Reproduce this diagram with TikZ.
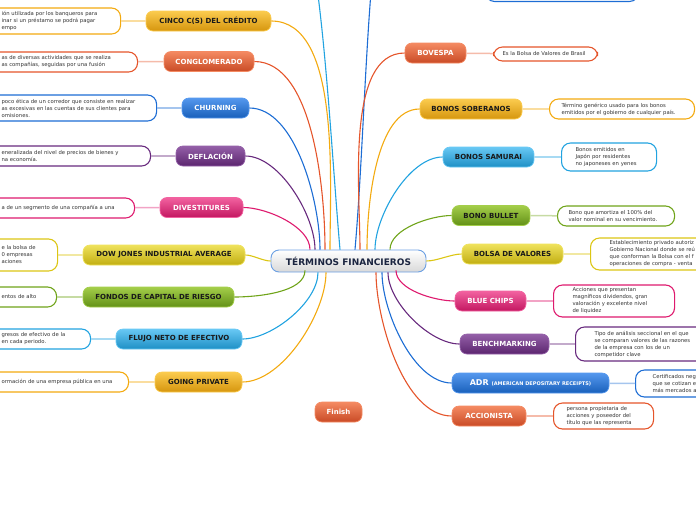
\documentclass[tikz,border=0pt]{standalone}
\usepackage{fontspec}
\setmainfont{DejaVu Sans}

\definecolor{ambar}{HTML}{F3AA10}
\definecolor{ambarhi}{HTML}{FBCB4E}
\definecolor{rojo}{HTML}{E5552B}
\definecolor{rojohi}{HTML}{F48A62}
\definecolor{azul}{HTML}{1D6DD4}
\definecolor{azulhi}{HTML}{5598EE}
\definecolor{morado}{HTML}{682A7E}
\definecolor{moradohi}{HTML}{9460A8}
\definecolor{rosa}{HTML}{DE1A6E}
\definecolor{rosahi}{HTML}{F262A0}
\definecolor{oro}{HTML}{DCC614}
\definecolor{orohi}{HTML}{EFE25C}
\definecolor{verde}{HTML}{70A41A}
\definecolor{verdehi}{HTML}{A4CE4A}
\definecolor{celeste}{HTML}{22A3E0}
\definecolor{celestehi}{HTML}{68C8F4}
\definecolor{tinta}{HTML}{1B2540}

\tikzset{
	term/.style={rounded corners=7pt,minimum height=20pt,inner sep=0pt,line width=0.7pt,font=\fontsize{7}{8}\selectfont\bfseries},
	tono/.style={term,top color=#1hi,bottom color=#1!88!black,draw=#1hi},
	claro/.style={tono=#1,text=black!90},
	oscuro/.style={tono=#1,text=white},
	raiz/.style={rounded corners=8pt,minimum width=155pt,minimum height=22pt,inner sep=0pt,top color=white,bottom color=gray!30,draw=azul!65,line width=0.9pt,text=tinta,font=\fontsize{9}{10}\selectfont\bfseries},
	desc/.style={draw=#1,line width=1.1pt,fill=white,rounded corners=9pt,align=left,anchor=west,inner ysep=1pt,text=black!80,font=\fontsize{5.3}{7}\selectfont},
	izq/.style={desc=#1,inner xsep=13pt},
	rama/.style={draw=#1,line width=1.1pt,looseness=0.75},
	enlace/.style={draw=#1!40,line width=1.5pt}
}

\begin{document}
\begin{tikzpicture}[x=1pt,y=1pt]
	\useasboundingbox (0,0) rectangle (696,-520);
	% centro
	\node[raiz] (0) at (348.5,-261) {TÉRMINOS FINANCIEROS};
	% lado izquierdo
	\node[claro=ambar,minimum width=125pt] (1) at (208.5,-21) {CINCO C(S) DEL CRÉDITO};
	\node[oscuro=rojo,minimum width=90pt] (2) at (209,-61.5) {CONGLOMERADO};
	\node[oscuro=azul,minimum width=67pt] (3) at (215.5,-108) {CHURNING};
	\node[oscuro=morado,minimum width=69pt] (4) at (210.5,-156) {DEFLACIÓN};
	\node[oscuro=rosa,minimum width=83pt] (5) at (201.5,-207.5) {DIVESTITURES};
	\node[claro=oro,minimum width=162pt] (6) at (164,-255) {DOW JONES INDUSTRIAL AVERAGE};
	\node[claro=verde,minimum width=151pt] (7) at (158.5,-297) {FONDOS DE CAPITAL DE RIESGO};
	\node[claro=celeste,minimum width=126pt] (8) at (179,-339) {FLUJO NETO DE EFECTIVO};
	\node[claro=ambar,minimum width=87pt] (9) at (198.5,-382) {GOING PRIVATE};
	% lado derecho
	\node[oscuro=rojo,minimum width=61pt] (10) at (435.5,-53) {BOVESPA};
	\node[claro=ambar,minimum width=102pt] (11) at (471,-109) {BONOS SOBERANOS};
	\node[claro=celeste,minimum width=91pt] (12) at (488.5,-157) {BONOS SAMURAI};
	\node[claro=verde,minimum width=78pt] (13) at (491,-215.5) {BONO BULLET};
	\node[claro=oro,minimum width=101pt] (14) at (512.5,-254) {BOLSA DE VALORES};
	\node[oscuro=rosa,minimum width=71pt] (15) at (490.5,-301) {BLUE CHIPS};
	\node[oscuro=morado,minimum width=89pt] (16) at (504.5,-344) {BENCHMARKING};
	\node[oscuro=azul,minimum width=157pt] (17) at (530.5,-383) {\fontsize{8}{9}\selectfont ADR {\fontsize{5}{6}\selectfont(AMERICAN DEPOSITARY RECEIPTS)}};
	\node[oscuro=rojo,minimum width=74pt] (18) at (489,-416) {ACCIONISTA};
	\node[oscuro=rojo,minimum width=47pt] (19) at (338.5,-412) {Finish};
	% descripciones
	\node[izq=ambar,text width=106pt,minimum height=26pt] (d1) at (-12,-21) {ión utilizada por los banqueros para\\inar si un préstamo se podrá pagar\\empo};
	\node[izq=rojo,text width=123pt,minimum height=20pt] (d2) at (-12,-62) {as de diversas actividades que se realiza\\as compañías, seguidas por una fusión};
	\node[izq=azul,text width=142pt,minimum height=26pt] (d3) at (-12,-108) {poco ética de un corredor que consiste en realizar\\as excesivas en las cuentas de sus clientes para\\omisiones.};
	\node[izq=morado,text width=136pt,minimum height=20pt] (d4) at (-12,-156) {eneralizada del nivel de precios de bienes y\\na economía.};
	\node[izq=rosa,text width=120pt,minimum height=20pt] (d5) at (-12,-208) {a de un segmento de una compañía a una};
	\node[izq=oro,text width=43pt,minimum height=32pt] (d6) at (-12,-255) {e la bolsa de\\0 empresas\\aciones};
	\node[izq=verde,text width=42pt,minimum height=20pt] (d7) at (-12,-297) {entos de alto};
	\node[izq=celeste,text width=76pt,minimum height=20pt] (d8) at (-12,-339) {gresos de efectivo de la\\en cada periodo.};
	\node[izq=ambar,text width=114pt,minimum height=20pt] (d9) at (-12,-382) {ormación de una empresa pública en una};
	\node[desc=rojo,inner xsep=9pt,text width=86pt,minimum height=14pt] (d10) at (493,-54) {Es la Bolsa de Valores de Brasil};
	\node[desc=ambar,inner xsep=12pt,text width=121pt,minimum height=20pt] (d11) at (549,-109) {Término genérico usado para los bonos\\emitidos por el gobierno de cualquier país.};
	\node[desc=celeste,inner xsep=14pt,text width=67pt,minimum height=28pt] (d12) at (561,-157) {Bonos emitidos en\\Japón por residentes\\no japoneses en yenes};
	\node[desc=verde,inner xsep=11pt,text width=95pt,minimum height=20pt] (d13) at (557,-216) {Bono que amortiza el 100\% del\\valor nominal en su vencimiento.};
	\node[desc=oro,inner xsep=19pt,text width=112pt,minimum height=32pt] (d14) at (590,-254) {Establecimiento privado autoriz\\Gobierno Nacional donde se reú\\que conforman la Bolsa con el f\\operaciones de compra - venta};
	\node[desc=rosa,inner xsep=19pt,text width=83pt,minimum height=32pt] (d15) at (553,-301) {Acciones que presentan\\magníficos dividendos, gran\\valoración y excelente nivel\\de liquidez};
	\node[desc=morado,inner xsep=19pt,text width=107pt,minimum height=34pt] (d16) at (575,-344) {Tipo de análisis seccional en el que\\se comparan valores de las razones\\de la empresa con los de un\\competidor clave};
	\node[desc=azul,inner xsep=17pt,text width=71pt,minimum height=27pt] (d17) at (635,-383.5) {Certificados neg\\que se cotizan e\\más mercados a};
	\node[desc=rojo,inner xsep=13pt,text width=74pt,minimum height=26pt] (d18) at (553,-416) {persona propietaria de\\acciones y poseedor del\\título que las representa};
	\node[desc=azul,anchor=south west,minimum width=153pt,minimum height=24pt] (d20) at (485,-2) {};
	% ramas fuera del cuadro
	\coordinate (arriba1) at (316,20);
	\coordinate (arriba2) at (372,20);
	% ramas
	\draw[rama=ambar] ([xshift=-18.5pt]0.north) to[out=90,in=0] (1.east);
	\draw[rama=rojo] ([xshift=-23.5pt]0.north) to[out=90,in=0] (2.east);
	\draw[rama=azul] ([xshift=-28.5pt]0.north) to[out=90,in=0] (3.east);
	\draw[rama=morado] ([xshift=-33.5pt]0.north) to[out=90,in=0] (4.east);
	\draw[rama=rosa] ([xshift=-38.5pt]0.north) to[out=90,in=0] (5.east);
	\draw[rama=oro] (0.west) to[out=180,in=0] (6.east);
	\draw[rama=verde] ([xshift=-43.5pt,yshift=2pt]0.south) to[out=-90,in=0] (7.east);
	\draw[rama=celeste] ([xshift=-30.5pt]0.south) to[out=-90,in=0] (8.east);
	\draw[rama=ambar] ([xshift=-22.5pt]0.south) to[out=-90,in=0] (9.east);
	\draw[rama=celeste] ([xshift=-8.5pt]0.north) to[out=95,in=-82] (arriba1);
	\draw[rama=azul] ([xshift=6.5pt]0.north) to[out=85,in=-95] (arriba2);
	\draw[rama=rojo] ([xshift=11.5pt]0.north) to[out=90,in=180] (10.west);
	\draw[rama=ambar] ([xshift=18.5pt]0.north) to[out=90,in=180] (11.west);
	\draw[rama=celeste] ([xshift=26.5pt]0.north) to[out=90,in=180] (12.west);
	\draw[rama=verde] ([xshift=41.5pt]0.north) to[out=90,in=180] (13.west);
	\draw[rama=oro] (0.east) to[out=0,in=180] (14.west);
	\draw[rama=rosa] ([xshift=47.5pt,yshift=2pt]0.south) to[out=-90,in=180] (15.west);
	\draw[rama=morado] ([xshift=39.5pt]0.south) to[out=-90,in=180] (16.west);
	\draw[rama=azul] ([xshift=33.5pt]0.south) to[out=-90,in=180] (17.west);
	\draw[rama=rojo] ([xshift=27.5pt]0.south) to[out=-90,in=180] (18.west);
	% enlaces a descripciones
	\draw[enlace=ambar] (d1) -- (1);
	\draw[enlace=rojo] (d2) -- (2);
	\draw[enlace=azul] (d3) -- (3);
	\draw[enlace=morado] (d4) -- (4);
	\draw[enlace=rosa] (d5) -- (5);
	\draw[enlace=oro] (d6) -- (6);
	\draw[enlace=verde] (d7) -- (7);
	\draw[enlace=celeste] (d8) -- (8);
	\draw[enlace=ambar] (d9) -- (9);
	\draw[enlace=rojo] (10) -- (d10);
	\draw[enlace=ambar] (11) -- (d11);
	\draw[enlace=celeste] (12) -- (d12);
	\draw[enlace=verde] (13) -- (d13);
	\draw[enlace=oro] (14) -- (d14);
	\draw[enlace=rosa] (15) -- (d15);
	\draw[enlace=morado] (16) -- (d16);
	\draw[enlace=azul] (17) -- (d17);
	\draw[enlace=rojo] (18) -- (d18);
\end{tikzpicture}
\end{document}
